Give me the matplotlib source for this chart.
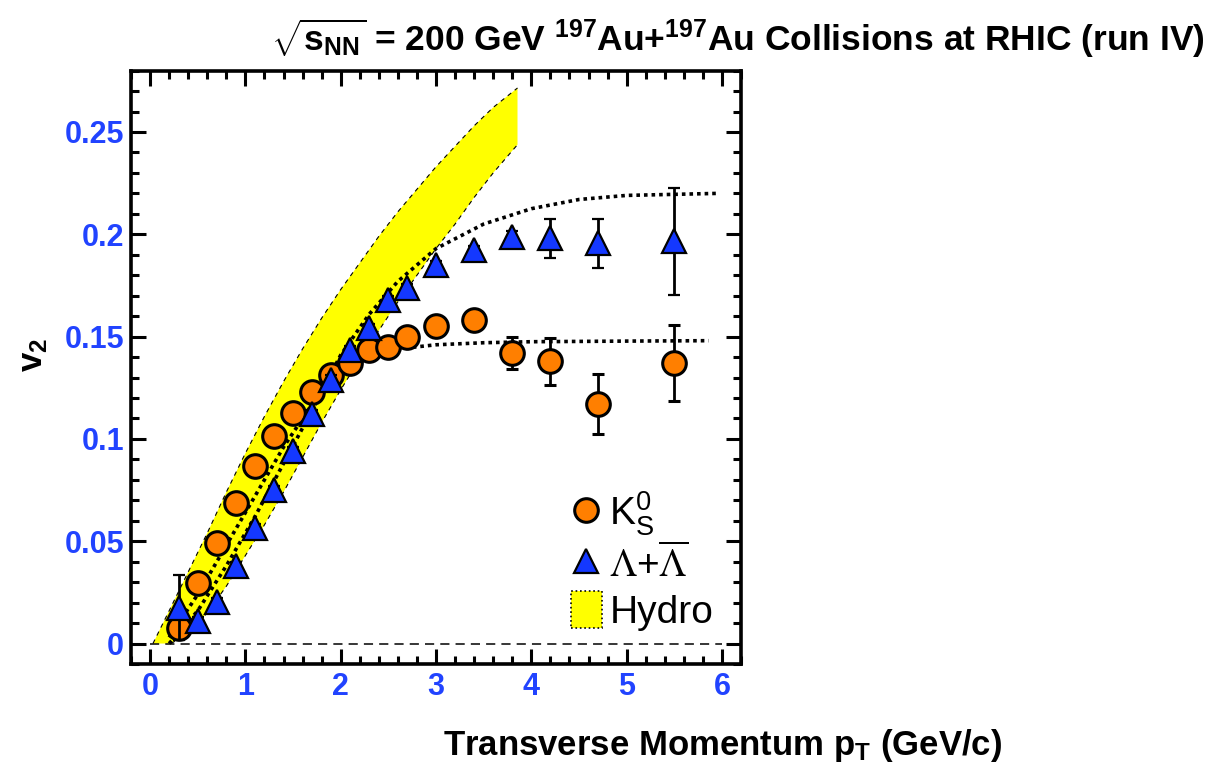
import numpy as np
import matplotlib
matplotlib.use('Agg')
import matplotlib.pyplot as plt
from matplotlib.lines import Line2D
from matplotlib.patches import Patch
from matplotlib.ticker import MultipleLocator

plt.rcParams['font.family'] = ['Liberation Sans', 'DejaVu Sans']
plt.rcParams['mathtext.fontset'] = 'custom'
plt.rcParams['mathtext.rm'] = 'Liberation Sans:bold'
plt.rcParams['mathtext.it'] = 'Liberation Sans:bold'
plt.rcParams['mathtext.bf'] = 'Liberation Sans:bold'
plt.rcParams['mathtext.sf'] = 'Liberation Sans'

#===============
#  data: v2 vs pT
#===============
pt_k0 = [0.3, 0.5, 0.7, 0.9, 1.1, 1.3, 1.5, 1.7, 1.9, 2.1, 2.3, 2.5, 2.7, 3.0, 3.4, 3.8, 4.2, 4.7, 5.5]
v2_k0 = [0.0076, 0.0295, 0.049, 0.0685, 0.087, 0.1015, 0.1125, 0.123, 0.131, 0.137, 0.1435, 0.145,
         0.150, 0.155, 0.158, 0.142, 0.138, 0.117, 0.137]
err_k0 = [0.005, 0.002, 0.002, 0.002, 0.002, 0.002, 0.002, 0.002, 0.002, 0.002, 0.002, 0.002,
          0.002, 0.002, 0.002, 0.008, 0.0115, 0.0145, 0.0185]

pt_lam = [0.3, 0.5, 0.7, 0.9, 1.1, 1.3, 1.5, 1.7, 1.9, 2.1, 2.3, 2.5, 2.7, 3.0, 3.4, 3.8, 4.2, 4.7, 5.5]
v2_lam = [0.0175, 0.011, 0.0205, 0.038, 0.0565, 0.075, 0.094, 0.112, 0.129, 0.1434, 0.154, 0.168,
          0.1736, 0.185, 0.1923, 0.1988, 0.198, 0.1955, 0.1965]
err_lam = [0.016, 0.002, 0.002, 0.002, 0.002, 0.002, 0.002, 0.002, 0.002, 0.002, 0.002, 0.002,
           0.002, 0.002, 0.002, 0.003, 0.0095, 0.012, 0.026]

# hydro band edges
hydro_pt_hi = [0.03, 0.2, 0.4, 0.6, 0.8, 1.0, 1.2, 1.4, 1.6, 1.8, 2.0, 2.2, 2.4, 2.6, 2.8, 3.0,
               3.2, 3.4, 3.6, 3.855]
hydro_v2_hi = [0.0, 0.016, 0.035, 0.054, 0.074, 0.093, 0.111, 0.128, 0.144, 0.159, 0.173, 0.186,
               0.199, 0.211, 0.222, 0.233, 0.243, 0.253, 0.262, 0.2715]
hydro_pt_lo = [0.22, 0.4, 0.6, 0.8, 1.0, 1.2, 1.4, 1.6, 1.8, 2.0, 2.2, 2.4, 2.6, 2.8, 3.0, 3.2,
               3.4, 3.6, 3.855]
hydro_v2_lo = [0.0, 0.005, 0.015, 0.028, 0.043, 0.058, 0.074, 0.091, 0.108, 0.124, 0.139, 0.153,
               0.167, 0.180, 0.193, 0.205, 0.218, 0.230, 0.2438]

# dotted curves
curve_pt_k0 = [0.2, 0.5, 0.8, 1.1, 1.4, 1.7, 2.0, 2.3, 2.6, 3.0, 3.5, 4.0, 5.0, 5.86]
curve_v2_k0 = [0.003, 0.024, 0.048, 0.072, 0.096, 0.117, 0.133, 0.141, 0.144, 0.146, 0.147, 0.1475, 0.1478, 0.148]
curve_pt_lam = [0.2, 0.5, 0.8, 1.1, 1.4, 1.7, 2.0, 2.3, 2.6, 3.0, 3.5, 4.0, 4.5, 5.0, 5.97]
curve_v2_lam = [0.0, 0.016, 0.038, 0.062, 0.088, 0.114, 0.141, 0.161, 0.177, 0.193, 0.205, 0.2125, 0.217, 0.219, 0.220]

#===============
#  figure
#===============
fig = plt.figure(figsize=(12.12, 7.73), dpi=100)
ax = fig.add_axes([0.1081, 0.141, 0.5033, 0.7677])

# hydro band
band_x = np.concatenate([hydro_pt_hi, hydro_pt_lo[::-1]])
band_y = np.concatenate([hydro_v2_hi, hydro_v2_lo[::-1]])
ax.fill(band_x, band_y, color='#ffff00', lw=0, zorder=1)
ax.plot(hydro_pt_hi, hydro_v2_hi, color='k', lw=0.8, ls=(0, (4, 4)), zorder=2)
ax.plot(hydro_pt_lo, hydro_v2_lo, color='k', lw=0.8, ls=(0, (4, 4)), zorder=2)

# zero line
ax.plot([0, 6], [0, 0], color='k', lw=1.1, ls=(0, (6, 4)), zorder=2)

# dotted curves
ax.plot(curve_pt_k0, curve_v2_k0, color='k', lw=2.6, ls=(0, (1, 1.1)), zorder=3)
ax.plot(curve_pt_lam, curve_v2_lam, color='k', lw=2.6, ls=(0, (1, 1.1)), zorder=3)

# data points
ax.errorbar(pt_k0, v2_k0, yerr=err_k0, fmt='o', ms=17, mfc='#ff7f00', mec='k', mew=2.2,
            ecolor='k', elinewidth=2, capsize=4, capthick=2, zorder=4)
ax.errorbar(pt_lam, v2_lam, yerr=err_lam, fmt='^', ms=17, mfc='#1438ff', mec='k', mew=1.6,
            ecolor='k', elinewidth=2, capsize=4, capthick=2, zorder=5)

ax.set_xlim(-0.2, 6.2)
ax.set_ylim(-0.01, 0.28)
ax.xaxis.set_major_locator(MultipleLocator(1))
ax.xaxis.set_minor_locator(MultipleLocator(0.2))
ax.yaxis.set_major_locator(MultipleLocator(0.05))
ax.yaxis.set_minor_locator(MultipleLocator(0.01))
ax.set_xticks([0, 1, 2, 3, 4, 5, 6])
ax.set_xticklabels(['0', '1', '2', '3', '4', '5', '6'])
ax.set_yticks([0, 0.05, 0.1, 0.15, 0.2, 0.25])
ax.set_yticklabels(['0', '0.05', '0.1', '0.15', '0.2', '0.25'])
ax.tick_params(which='both', direction='in', top=True, right=True, width=2.2,
               labelsize=22, labelcolor='#2143ff')
ax.tick_params(which='major', length=11)
ax.tick_params(which='minor', length=5.5)
ax.tick_params(axis='y', pad=5)
ax.tick_params(axis='x', pad=6)
for lab in ax.get_xticklabels() + ax.get_yticklabels():
    lab.set_fontweight('bold')
for sp in ax.spines.values():
    sp.set_linewidth(2.6)

# legend
handles = [Line2D([], [], ls='none', marker='o', ms=17, mfc='#ff7f00', mec='k', mew=2.2),
           Line2D([], [], ls='none', marker='^', ms=17, mfc='#1438ff', mec='k', mew=1.6),
           Patch(facecolor='#ffff00', edgecolor='k', linestyle=':', linewidth=1.2)]
labels = [r'K$_{\mathsf{S}}^{\mathsf{0}}$', r'$\Lambda$+$\overline{\Lambda}$', 'Hydro']
leg = ax.legend(handles, labels, loc='lower left', bbox_to_anchor=(0.695, 0.03), frameon=False,
                fontsize=28, handlelength=0.8, handleheight=1.1, handletextpad=0.2,
                labelspacing=0.15, borderaxespad=0)
leg.get_texts()[1].set_math_fontfamily('stix')

# labels
fig.text(0.994, 0.951, r'$\sqrt{s_{NN}}$ = 200 GeV $^{197}$Au+$^{197}$Au Collisions at RHIC (run IV)',
         ha='right', va='center', fontsize=25.5, fontweight='bold')
fig.text(0.5965, 0.036, r'Transverse Momentum p$_{T}$ (GeV/c)', ha='center', va='center',
         fontsize=25, fontweight='bold')
fig.text(0.028, 0.541, r'v$_{2}$', ha='center', va='center', rotation=90,
         fontsize=25, fontweight='bold')

fig.savefig('out.png', dpi=100)
